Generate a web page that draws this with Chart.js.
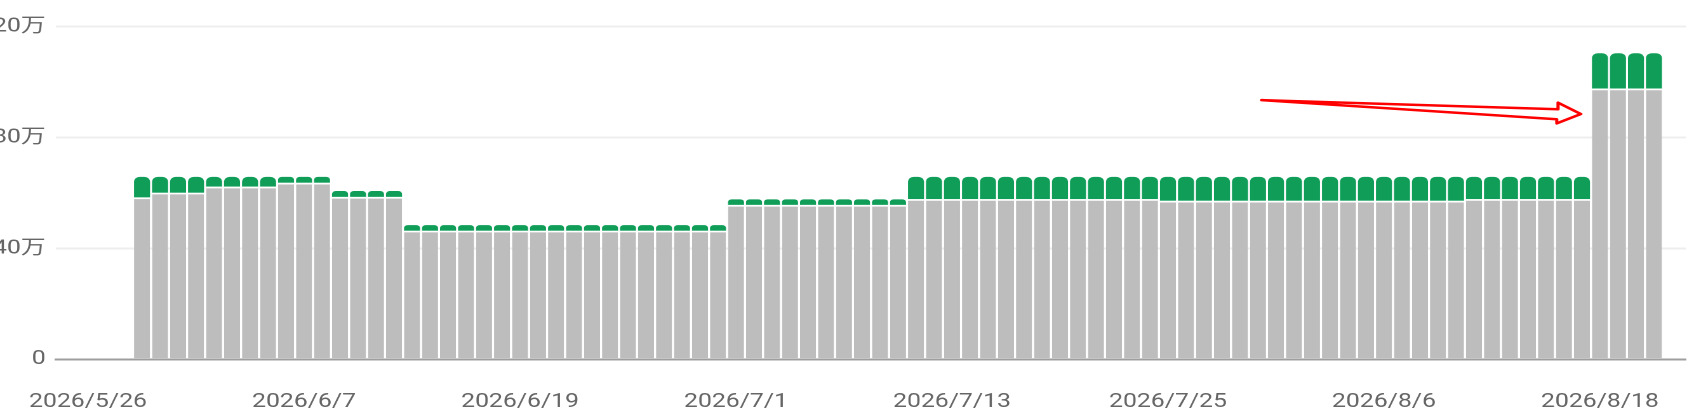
<!DOCTYPE html>
<html lang="ja">
<head>
<meta charset="utf-8">
<title>推移</title>
<script src="https://cdn.jsdelivr.net/npm/chart.js@4.4.1/dist/chart.umd.min.js"></script>
<style>
  html, body { margin: 0; padding: 0; background: #fff; overflow: hidden; }
  /* the source picture is a horizontally stretched screenshot:
     the chart is drawn 1334 wide and the canvas is shown 1694 wide */
  #stackChart { display: block; width: 1694px; height: 418px; }
</style>
</head>
<body>
<canvas id="stackChart" width="1334" height="418" style="width:1694px;height:418px"></canvas>
<script>
const dates = [
  '2026/5/29', '2026/5/30', '2026/5/31',
  '2026/6/1', '2026/6/2', '2026/6/3', '2026/6/4', '2026/6/5', '2026/6/6', '2026/6/7', '2026/6/8', '2026/6/9', '2026/6/10',
  '2026/6/11', '2026/6/12', '2026/6/13', '2026/6/14', '2026/6/15', '2026/6/16', '2026/6/17', '2026/6/18', '2026/6/19', '2026/6/20',
  '2026/6/21', '2026/6/22', '2026/6/23', '2026/6/24', '2026/6/25', '2026/6/26', '2026/6/27', '2026/6/28', '2026/6/29', '2026/6/30',
  '2026/7/1', '2026/7/2', '2026/7/3', '2026/7/4', '2026/7/5', '2026/7/6', '2026/7/7', '2026/7/8', '2026/7/9', '2026/7/10',
  '2026/7/11', '2026/7/12', '2026/7/13', '2026/7/14', '2026/7/15', '2026/7/16', '2026/7/17', '2026/7/18', '2026/7/19', '2026/7/20',
  '2026/7/21', '2026/7/22', '2026/7/23', '2026/7/24', '2026/7/25', '2026/7/26', '2026/7/27', '2026/7/28', '2026/7/29', '2026/7/30', '2026/7/31',
  '2026/8/1', '2026/8/2', '2026/8/3', '2026/8/4', '2026/8/5', '2026/8/6', '2026/8/7', '2026/8/8', '2026/8/9', '2026/8/10',
  '2026/8/11', '2026/8/12', '2026/8/13', '2026/8/14', '2026/8/15', '2026/8/16', '2026/8/17', '2026/8/18', '2026/8/19', '2026/8/20', '2026/8/21'
];

// gray part (bottom of each stack)
const baseValues = [
  584000, 601000, 601000,
  601000, 623000, 623000, 623000, 623000, 637000, 637000, 637000, 586000, 586000,
  586000, 586000, 464000, 464000, 464000, 464000, 464000, 464000, 464000, 464000,
  464000, 464000, 464000, 464000, 464000, 464000, 464000, 464000, 464000, 464000,
  557000, 557000, 557000, 557000, 557000, 557000, 557000, 557000, 557000, 557000,
  578000, 578000, 578000, 578000, 578000, 578000, 578000, 578000, 578000, 578000,
  578000, 578000, 578000, 578000, 572000, 572000, 572000, 572000, 572000, 572000, 572000,
  572000, 572000, 572000, 572000, 572000, 572000, 572000, 572000, 572000, 572000,
  578000, 578000, 578000, 578000, 578000, 578000, 578000, 977000, 977000, 977000, 977000
];

// green part (top of each stack)
const extraValues = [
  74000, 57000, 57000,
  57000, 35000, 35000, 35000, 35000, 21000, 21000, 21000, 21000, 21000,
  21000, 21000, 20000, 20000, 20000, 20000, 20000, 20000, 20000, 20000,
  20000, 20000, 20000, 20000, 20000, 20000, 20000, 20000, 20000, 20000,
  20000, 20000, 20000, 20000, 20000, 20000, 20000, 20000, 20000, 20000,
  80000, 80000, 80000, 80000, 80000, 80000, 80000, 80000, 80000, 80000,
  80000, 80000, 80000, 80000, 86000, 86000, 86000, 86000, 86000, 86000, 86000,
  86000, 86000, 86000, 86000, 86000, 86000, 86000, 86000, 86000, 86000,
  80000, 80000, 80000, 80000, 80000, 80000, 80000, 127000, 127000, 127000, 127000
];

const tickLabels = ['2026/5/26', '2026/6/7', '2026/6/19', '2026/7/1', '2026/7/13', '2026/7/25', '2026/8/6', '2026/8/18'];

const Y_MAX = 1200000;
const Y_STEP = 400000;

// hand-drawn red arrow, in [day, value] points
const arrowShape = [
  [65.2, 935000], [81.67, 902000], [81.67, 926000],
  [82.94, 885000], [81.6, 851000], [81.6, 866000]
];

const TEXT_COLOR = '#666666';
const FONT = { family: "Roboto, 'Noto Sans CJK JP', sans-serif", size: 19.5 };

function dayIndex(s) {
  const [y, m, d] = s.split('/').map(Number);
  const [y0, m0, d0] = tickLabels[0].split('/').map(Number);
  return (Date.UTC(y, m - 1, d) - Date.UTC(y0, m0 - 1, d0)) / 86400000;
}

const labelByDay = {};
tickLabels.forEach(t => { labelByDay[dayIndex(t)] = t; });

const arrowPlugin = {
  id: 'arrowNote',
  afterDatasetsDraw(chart) {
    const { ctx, scales: { x, y } } = chart;
    ctx.save();
    ctx.strokeStyle = '#ff0000';
    ctx.lineWidth = 2.5;
    ctx.lineJoin = 'round';
    ctx.beginPath();
    arrowShape.forEach(([d, v], i) => {
      const px = x.getPixelForValue(d);
      const py = y.getPixelForValue(v);
      if (i === 0) ctx.moveTo(px, py); else ctx.lineTo(px, py);
    });
    ctx.closePath();
    ctx.stroke();
    ctx.restore();
  }
};

function buildChart() {
  const ctx = document.getElementById('stackChart');
  const lastDay = dayIndex(dates[dates.length - 1]);

  new Chart(ctx, {
    type: 'bar',
    data: {
      datasets: [
        {
          label: 'base',
          data: dates.map((d, i) => ({ x: dayIndex(d), y: baseValues[i] })),
          backgroundColor: '#bdbdbd',
          borderColor: '#ffffff',
          borderWidth: { top: 1.7, right: 0, bottom: 0, left: 0 },
          borderSkipped: 'start',
          barPercentage: 0.89,
          categoryPercentage: 1
        },
        {
          label: 'extra',
          data: dates.map((d, i) => ({ x: dayIndex(d), y: extraValues[i] })),
          backgroundColor: '#0f9d58',
          borderWidth: 0,
          borderRadius: { topLeft: 4.5, topRight: 4.5, bottomLeft: 0, bottomRight: 0 },
          barPercentage: 0.89,
          categoryPercentage: 1
        }
      ]
    },
    options: {
      responsive: false,
      animation: false,
      devicePixelRatio: 2,
      layout: { padding: { top: 26.7, right: 6.3, bottom: 0, left: 0 } },
      plugins: {
        legend: { display: false },
        tooltip: { enabled: false }
      },
      scales: {
        x: {
          type: 'linear',
          offset: false,
          stacked: true,
          min: -1.78,
          max: lastDay + 1.78,
          grid: { display: false, drawTicks: false },
          border: { color: '#9e9e9e', width: 2 },
          afterFit: s => { s.height = 58.7; s.paddingLeft = 0; s.paddingRight = 0; },
          afterBuildTicks: s => { s.ticks = tickLabels.map(t => ({ value: dayIndex(t) })); },
          ticks: {
            autoSkip: false,
            maxRotation: 0,
            padding: 31,
            color: TEXT_COLOR,
            font: FONT,
            callback: v => labelByDay[v] || ''
          }
        },
        y: {
          stacked: true,
          min: 0,
          max: Y_MAX,
          afterFit: s => { s.width = 44.1; },
          grid: { color: '#eeeeee', lineWidth: 2, drawTicks: false },
          border: { display: false },
          ticks: {
            stepSize: Y_STEP,
            padding: 8.2,
            color: TEXT_COLOR,
            font: FONT,
            callback: v => (v === 0 ? '0' : (v / 10000) + '万')
          }
        }
      }
    },
    plugins: [arrowPlugin]
  });
}

document.addEventListener('DOMContentLoaded', buildChart);
</script>
</body>
</html>
